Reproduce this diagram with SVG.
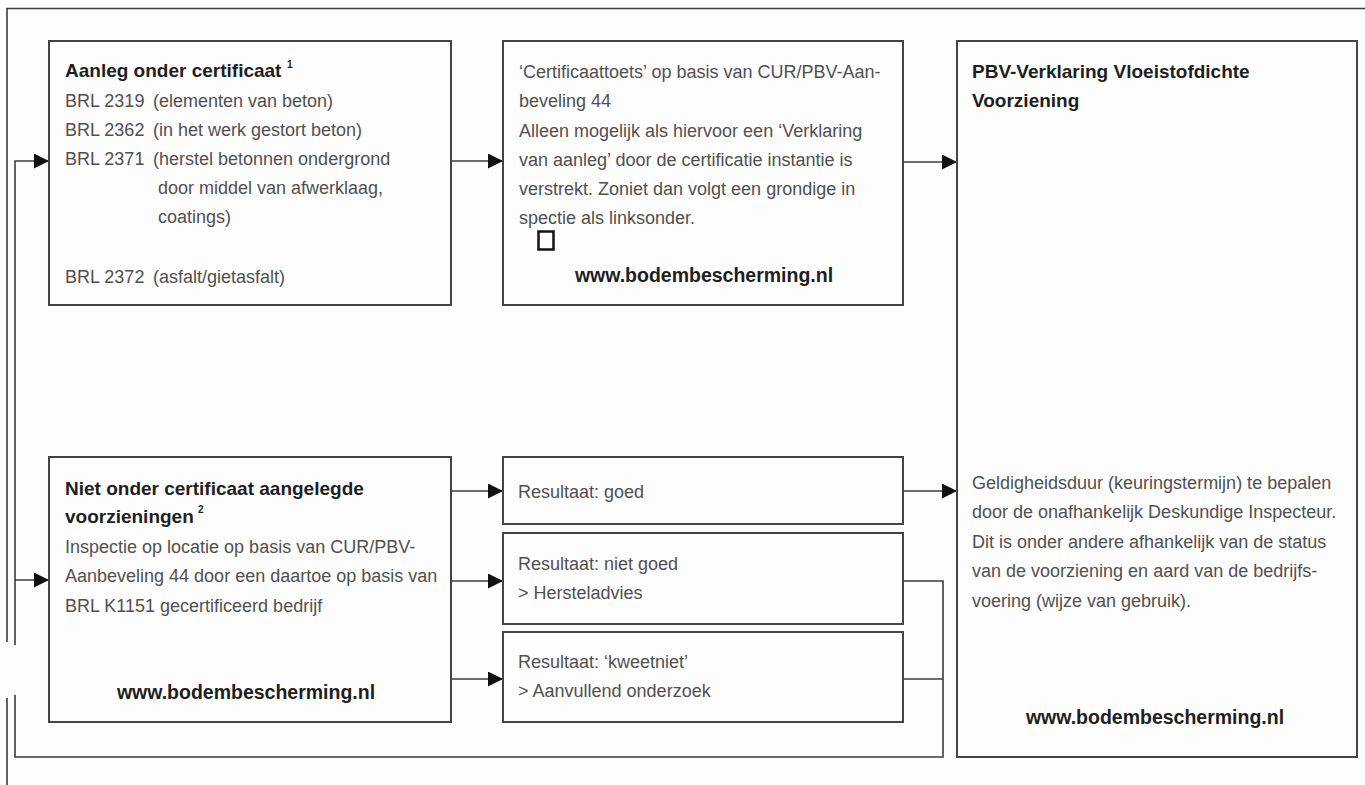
<svg xmlns="http://www.w3.org/2000/svg" width="1365" height="785" viewBox="0 0 1365 785">
<style>
.bg{fill:#fdfdfd}
.box{fill:none;stroke:#454545;stroke-width:2}
.ln{fill:none;stroke:#3c3c3c;stroke-width:1.6}
.t{font-family:"Liberation Sans",Arial,sans-serif;font-size:18px;fill:#505050}
.b{font-family:"Liberation Sans",Arial,sans-serif;font-size:19px;font-weight:bold;fill:#1e1e1e}
.u{font-family:"Liberation Sans",Arial,sans-serif;font-size:19.5px;font-weight:bold;fill:#1e1e1e;text-anchor:middle}
.sup{font-family:"Liberation Sans",Arial,sans-serif;font-size:10px;font-weight:bold;fill:#1e1e1e}
</style>
<defs>
<marker id="ah" markerUnits="userSpaceOnUse" markerWidth="15" markerHeight="15" viewBox="0 0 15 15" refX="15" refY="7.5" orient="auto">
<path d="M0,0 L15,7.5 L0,15 z" fill="#111"/>
</marker>
</defs>
<rect class="bg" x="0" y="0" width="1365" height="785"/>
<g id="frame">
<path class="ln" d="M1365,8.5 H7 V642 M7,698 V785"/>
</g>
<g id="connectors">
<path class="ln" d="M15,645 V161 H49" marker-end="url(#ah)"/>
<path class="ln" d="M15,580 H49" marker-end="url(#ah)"/>
<path class="ln" d="M903,581 H943 V757 H15 V695"/>
<path class="ln" d="M903,679 H943"/>
<path class="ln" d="M451,161 H503" marker-end="url(#ah)"/>
<path class="ln" d="M903,162 H957" marker-end="url(#ah)"/>
<path class="ln" d="M451,491 H503" marker-end="url(#ah)"/>
<path class="ln" d="M451,581 H503" marker-end="url(#ah)"/>
<path class="ln" d="M451,679 H503" marker-end="url(#ah)"/>
<path class="ln" d="M903,491 H957" marker-end="url(#ah)"/>
</g>
<g id="aanleg">
<rect class="box" x="49" y="41" width="402" height="264"/>
<text class="b" x="65" y="77">Aanleg onder certificaat</text>
<text class="sup" x="287" y="68">1</text>
<text class="t" x="65" y="107">BRL 2319</text><text class="t" x="153" y="107">(elementen van beton)</text>
<text class="t" x="65" y="136">BRL 2362</text><text class="t" x="153" y="136">(in het werk gestort beton)</text>
<text class="t" x="65" y="165">BRL 2371</text><text class="t" x="153" y="165">(herstel betonnen ondergrond</text>
<text class="t" x="158" y="194">door middel van afwerklaag,</text>
<text class="t" x="158" y="223">coatings)</text>
<text class="t" x="65" y="283">BRL 2372</text><text class="t" x="153" y="283">(asfalt/gietasfalt)</text>
</g>
<g id="certificaattoets">
<rect class="box" x="503" y="41" width="400" height="264"/>
<text class="t" x="519" y="78">‘Certificaattoets’ op basis van CUR/PBV-Aan-</text>
<text class="t" x="519" y="107">beveling 44</text>
<text class="t" x="519" y="137">Alleen mogelijk als hiervoor een ‘Verklaring</text>
<text class="t" x="519" y="166">van aanleg’ door de certificatie instantie is</text>
<text class="t" x="519" y="195">verstrekt. Zoniet dan volgt een grondige in</text>
<text class="t" x="519" y="224">spectie als linksonder.</text>
<rect x="538.5" y="231.5" width="15" height="18" fill="none" stroke="#111" stroke-width="2.5"/>
<text class="u" x="704" y="282">www.bodembescherming.nl</text>
</g>
<g id="pbv-verklaring">
<rect class="box" x="957" y="41" width="400" height="716"/>
<text class="b" x="972" y="78">PBV-Verklaring Vloeistofdichte</text>
<text class="b" x="972" y="107">Voorziening</text>
<text class="t" x="972" y="489">Geldigheidsduur (keuringstermijn) te bepalen</text>
<text class="t" x="972" y="518">door de onafhankelijk Deskundige Inspecteur.</text>
<text class="t" x="972" y="548">Dit is onder andere afhankelijk van de status</text>
<text class="t" x="972" y="577">van de voorziening en aard van de bedrijfs-</text>
<text class="t" x="972" y="607">voering (wijze van gebruik).</text>
<text class="u" x="1155" y="724">www.bodembescherming.nl</text>
</g>
<g id="niet-onder-certificaat">
<rect class="box" x="49" y="457" width="402" height="265"/>
<text class="b" x="65" y="495">Niet onder certificaat aangelegde</text>
<text class="b" x="65" y="523">voorzieningen</text>
<text class="sup" x="198" y="513">2</text>
<text class="t" x="65" y="553">Inspectie op locatie op basis van CUR/PBV-</text>
<text class="t" x="65" y="582">Aanbeveling 44 door een daartoe op basis van</text>
<text class="t" x="65" y="612">BRL K1151 gecertificeerd bedrijf</text>
<text class="u" x="246" y="699">www.bodembescherming.nl</text>
</g>
<g id="resultaat-goed">
<rect class="box" x="503" y="457" width="400" height="67"/>
<text class="t" x="518" y="498">Resultaat: goed</text>
</g>
<g id="resultaat-niet-goed">
<rect class="box" x="503" y="533" width="400" height="91"/>
<text class="t" x="518" y="570">Resultaat: niet goed</text>
<text class="t" x="518" y="599">&gt; Hersteladvies</text>
</g>
<g id="resultaat-kweetniet">
<rect class="box" x="503" y="632" width="400" height="90"/>
<text class="t" x="518" y="668">Resultaat: ‘kweetniet’</text>
<text class="t" x="518" y="697">&gt; Aanvullend onderzoek</text>
</g>
</svg>
